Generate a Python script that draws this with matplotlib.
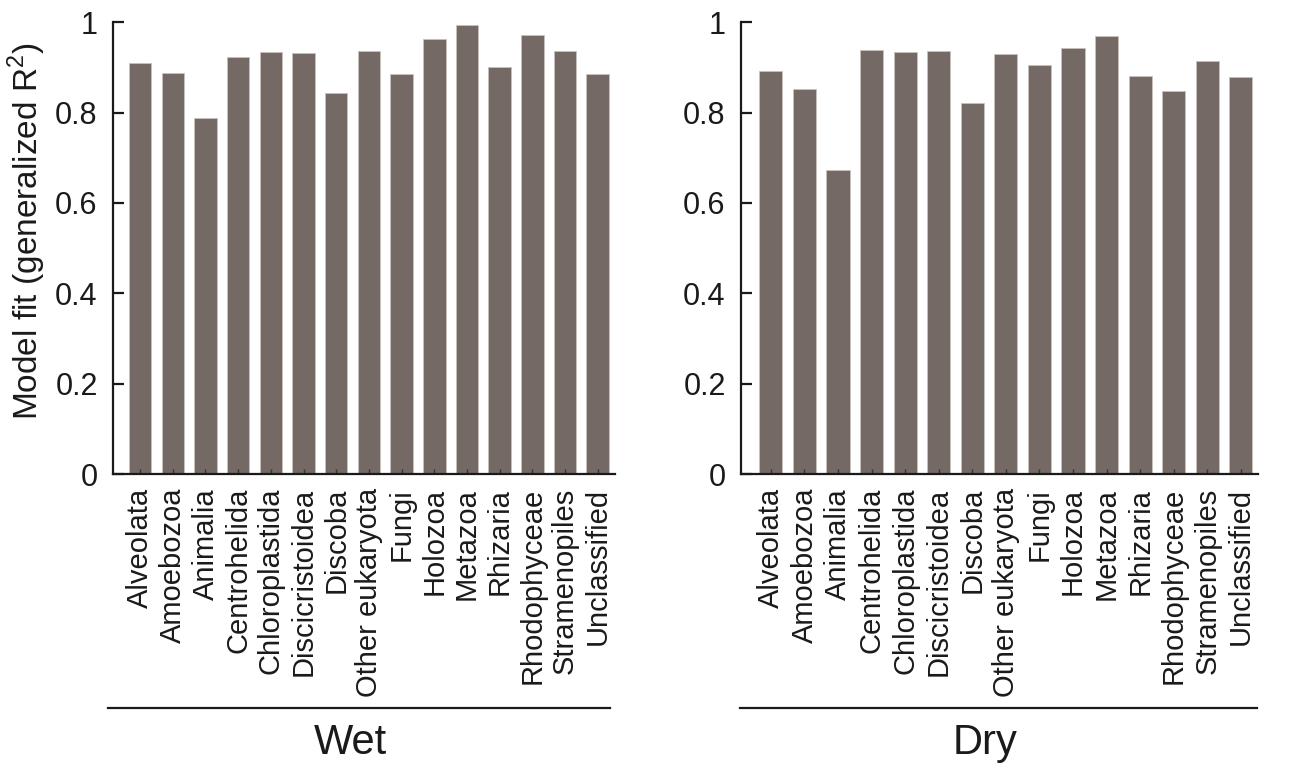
import matplotlib
matplotlib.use("Agg")
import matplotlib.pyplot as plt
from matplotlib.lines import Line2D

plt.rcParams['font.family'] = ['Liberation Sans', 'DejaVu Sans']
plt.rcParams['mathtext.fontset'] = 'custom'
plt.rcParams['mathtext.rm'] = 'Liberation Sans'

categories = ["Alveolata", "Amoebozoa", "Animalia", "Centrohelida", "Chloroplastida",
              "Discicristoidea", "Discoba", "Other eukaryota", "Fungi", "Holozoa",
              "Metazoa", "Rhizaria", "Rhodophyceae", "Stramenopiles", "Unclassified"]
wet = [0.911, 0.888, 0.788, 0.923, 0.934, 0.932, 0.844, 0.937, 0.886, 0.962,
       0.993, 0.900, 0.971, 0.937, 0.885]
dry = [0.892, 0.852, 0.674, 0.939, 0.934, 0.937, 0.821, 0.929, 0.906, 0.942,
       0.970, 0.881, 0.849, 0.915, 0.878]
yticks = [0, 0.2, 0.4, 0.6, 0.8, 1]
ytick_labels = ["0", "0.2", "0.4", "0.6", "0.8", "1"]
panel_titles = ["Wet", "Dry"]

W, H = 1304, 767
fig = plt.figure(figsize=(W / 100, H / 100), dpi=100)

bar_color = "#746964"
edge_color = "#c9c1bb"
text_color = "#1a1a1a"

panels = [
    dict(x0=113, x1=615, xlim=(-0.83, 14.53), vals=wet, line=(108, 610), tx=350),
    dict(x0=741, x1=1258, xlim=(-0.89, 14.51), vals=dry, line=(740, 1257), tx=985),
]
ytop, ybot = 22.3, 474

for p, title in zip(panels, panel_titles):
    ax = fig.add_axes([p['x0'] / W, 1 - ybot / H, (p['x1'] - p['x0']) / W, (ybot - ytop) / H])
    x = list(range(len(categories)))
    ax.bar(x, p['vals'], width=0.69, color=bar_color, edgecolor=edge_color, linewidth=0.6)
    ax.set_xlim(*p['xlim'])
    ax.set_ylim(0, 1)
    ax.set_yticks(yticks)
    ax.set_yticklabels(ytick_labels)
    ax.set_xticks(x)
    ax.set_xticklabels(categories, rotation=90, ha='center', va='top')
    for s in ['top', 'right']:
        ax.spines[s].set_visible(False)
    for s in ['left', 'bottom']:
        ax.spines[s].set_linewidth(1.6)
        ax.spines[s].set_color(text_color)
    ax.tick_params(axis='y', direction='in', length=8, width=1.6, labelsize=22, pad=11,
                   color=text_color, labelcolor=text_color)
    ax.tick_params(axis='x', direction='in', length=3.5, width=1.0, labelsize=21, pad=10,
                   color='#3a3330', labelcolor=text_color)
    fig.add_artist(Line2D([p['line'][0] / W, p['line'][1] / W], [1 - 708 / H, 1 - 708 / H],
                          color=text_color, linewidth=1.6))
    fig.text(p['tx'] / W, 1 - 743 / H, title, ha='center', va='center', fontsize=30,
             color=text_color)

fig.text(27 / W, 1 - 231 / H, "Model fit (generalized R$^2$)", rotation=90,
         ha='center', va='center', fontsize=24, color=text_color)

fig.savefig("out.png", dpi=100)
